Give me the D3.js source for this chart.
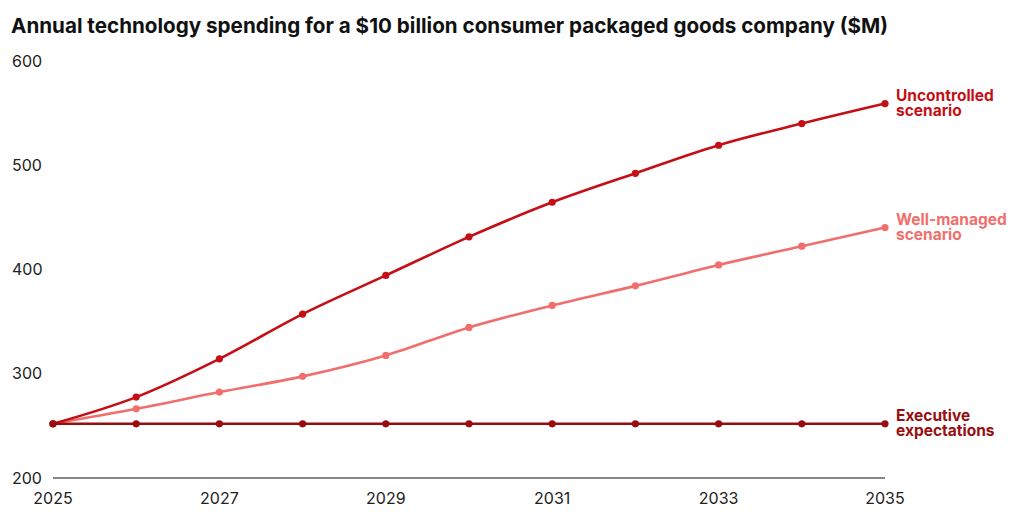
<!DOCTYPE html>
<html><head><meta charset="utf-8">
<script src="https://cdn.jsdelivr.net/npm/d3@7"></script>
<style>
body{margin:0;background:#fff;}
text{font-family:Inter,"Noto Sans",sans-serif;}
</style></head>
<body><svg id="c" width="1020" height="519"></svg>
<script>
const years = [2025,2026,2027,2028,2029,2030,2031,2032,2033,2034,2035];
const uncontrolled = [252,277.6,314.3,357.2,394.3,431.3,464.5,492.3,519.2,540,559.2];
const wellManaged = [252,266.4,282.4,297.5,317.6,344.4,365.5,384.3,404.4,422.4,440.3];
const executive = [252,252,252,252,252,252,252,252,252,252,252];
const yTicks = [200,300,400,500,600];
const xTicks = [2025,2027,2029,2031,2033,2035];
const title = "Annual technology spending for a $10 billion consumer packaged goods company ($M)";
const seriesNames = [["Uncontrolled","scenario"],["Well-managed","scenario"],["Executive","expectations"]];
const colors = ["#c40f16","#f06e6c","#980d0f"];

const svg = d3.select("#c");
const x = d3.scaleLinear().domain([2025,2035]).range([53,885]);
const y = d3.scaleLinear().domain([200,600]).range([478,61]);

const t = svg.append("text").attr("x",11).attr("y",33).attr("font-size",20).attr("font-weight",700).attr("fill","#111").text(title);
const w = t.node().getComputedTextLength();
t.attr("font-size", 20*878/w);

svg.selectAll(".yl").data(yTicks).join("text").attr("x",12).attr("y",d=>y(d)).attr("dy","0.35em")
  .attr("font-size",16).attr("fill","#222").text(d=>d);
svg.append("line").attr("x1",x(2025)).attr("x2",x(2035)).attr("y1",y(200)).attr("y2",y(200)).attr("stroke","#111").attr("stroke-width",1.2);
svg.selectAll(".xl").data(xTicks).join("text").attr("x",d=>x(d)).attr("y",498).attr("dy","0.35em").attr("text-anchor","middle")
  .attr("font-size",16).attr("fill","#222").text(d=>d);

const line = d3.line().x((d,i)=>x(years[i])).y(d=>y(d)).curve(d3.curveMonotoneX);
const series = [wellManaged, uncontrolled, executive];
const cols = [colors[1], colors[0], colors[2]];
series.forEach((s,k)=>{
  svg.append("path").attr("d",line(s)).attr("fill","none").attr("stroke",cols[k]).attr("stroke-width",2.6);
  svg.selectAll(null).data(s).join("circle").attr("cx",(d,i)=>x(years[i])).attr("cy",d=>y(d)).attr("r",3.6).attr("fill",cols[k]);
});

const labelData = [uncontrolled, wellManaged, executive];
labelData.forEach((s,k)=>{
  const yy = y(s[s.length-1]);
  const g = svg.append("text").attr("font-size",15.5).attr("font-weight",700).attr("fill",colors[k]);
  g.append("tspan").attr("x",896).attr("y",yy-8).attr("dy","0.35em").text(seriesNames[k][0]);
  g.append("tspan").attr("x",896).attr("y",yy+7).attr("dy","0.35em").text(seriesNames[k][1]);
});
</script></body></html>
